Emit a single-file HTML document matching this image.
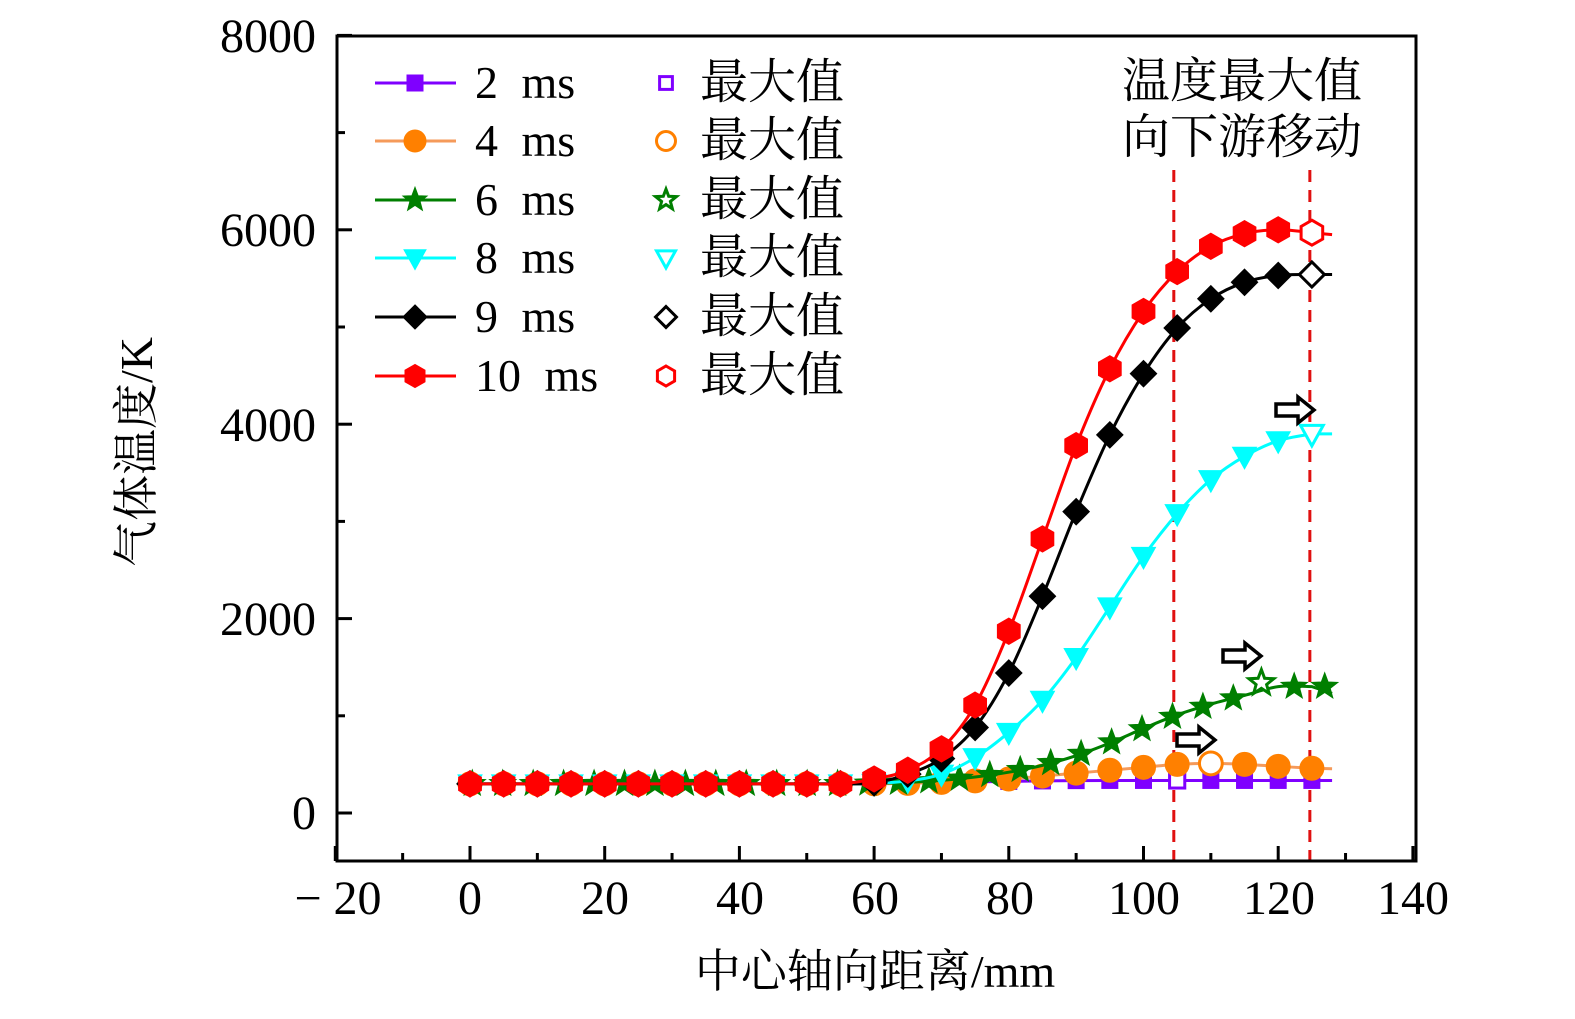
<!DOCTYPE html>
<html><head><meta charset="utf-8"><style>
body{margin:0;background:#fff;}
svg text{font-family:"Liberation Serif","Noto Serif CJK SC",serif;fill:#000;}
</style></head><body>
<svg id="s" width="1575" height="1014" viewBox="0 0 1575 1014" xmlns="http://www.w3.org/2000/svg">
<rect width="1575" height="1014" fill="#fff"/>
<g id="plot"></g>
<g id="ax" stroke="#000" stroke-width="3" fill="none">
<rect x="337" y="36" width="1079" height="825"/>
</g>
<g id="ticks" stroke="#000" stroke-width="3"></g>
<g font-size="48" text-anchor="middle">
<text x="338" y="914">− 20</text>
<text x="470" y="914">0</text>
<text x="605" y="914">20</text>
<text x="740" y="914">40</text>
<text x="875" y="914">60</text>
<text x="1010" y="914">80</text>
<text x="1144" y="914">100</text>
<text x="1279" y="914">120</text>
<text x="1413" y="914">140</text>
</g>
<g font-size="48" text-anchor="end">
<text x="316" y="829">0</text>
<text x="316" y="635">2000</text>
<text x="316" y="441">4000</text>
<text x="316" y="246">6000</text>
<text x="316" y="52">8000</text>
</g>
<text x="875" y="987" font-size="46" text-anchor="middle">中心轴向距离/mm</text>
<text transform="translate(152,452) rotate(-90)" font-size="46" text-anchor="middle">气体温度/K</text>
<g font-size="48" text-anchor="middle">
<text x="1242" y="97">温度最大值</text>
<text x="1242" y="153">向下游移动</text>
</g>
<g font-size="46" word-spacing="12">
<text x="475" y="98">2 ms</text>
<text x="475" y="156">4 ms</text>
<text x="475" y="215">6 ms</text>
<text x="475" y="273">8 ms</text>
<text x="475" y="332">9 ms</text>
<text x="475" y="391">10 ms</text>
</g>
<g font-size="48">
<text x="700" y="98">最大值</text>
<text x="700" y="156">最大值</text>
<text x="700" y="215">最大值</text>
<text x="700" y="273">最大值</text>
<text x="700" y="332">最大值</text>
<text x="700" y="391">最大值</text>
</g>
<g id="leg"></g>
</svg>
<script>
const NS="http://www.w3.org/2000/svg";
const X=v=>470+v*6.735, Y=v=>813-v*0.0972;
function el(p,t,a){const e=document.createElementNS(NS,t);for(const k in a)e.setAttribute(k,a[k]);p.appendChild(e);return e;}
const T=document.getElementById('ticks');
for(let v=-20;v<=140;v+=10){const x=X(v);el(T,'line',{x1:x,x2:x,y1:861,y2:v%20==0?846:853});}
for(let v=0;v<=8000;v+=1000){const y=Y(v);el(T,'line',{y1:y,y2:y,x1:337,x2:v%2000==0?352:345});}
function star(cx,cy,R){let p=[];for(let i=0;i<10;i++){const r=i%2?R*0.42:R,a=-Math.PI/2+i*Math.PI/5;p.push((cx+r*Math.cos(a)).toFixed(1)+','+(cy+r*Math.sin(a)).toFixed(1));}return p.join(' ');}
function hex(cx,cy,R){let p=[];for(let i=0;i<6;i++){const a=-Math.PI/2+i*Math.PI/3;p.push((cx+R*Math.cos(a)).toFixed(1)+','+(cy+R*Math.sin(a)).toFixed(1));}return p.join(' ');}
function marker(g,type,cx,cy,s,col,open){
 const st=open?{fill:'#fff',stroke:col,'stroke-width':3}:{fill:col,stroke:col,'stroke-width':1};
 if(type=='sq')el(g,'rect',Object.assign({x:cx-s*0.8,y:cy-s*0.8,width:s*1.6,height:s*1.6},st));
 if(type=='ci')el(g,'circle',Object.assign({cx,cy,r:s},st));
 if(type=='st')el(g,'polygon',Object.assign({points:star(cx,cy,s*1.15)},st));
 if(type=='tr')el(g,'polygon',Object.assign({points:`${cx-s},${cy-s*0.75} ${cx+s},${cy-s*0.75} ${cx},${cy+s*1.05}`},st));
 if(type=='di')el(g,'polygon',Object.assign({points:`${cx},${cy-s*1.1} ${cx+s*1.1},${cy} ${cx},${cy+s*1.1} ${cx-s*1.1},${cy}`},st));
 if(type=='hx')el(g,'polygon',Object.assign({points:hex(cx,cy,s*1.05)},st));
}
const base=[300,300,300,300,300,300,300,300,300,300,300,300];
const S=[
 {c:'#7f00ff',t:'sq',d:base.concat([305,310,315,320,325,330,333,335,335,335,335,335,335,335]),mx:[105,335],end:335,lc:'#7f00ff'},
 {c:'#ff8000',t:'ci',d:base.concat([300,305,315,330,350,380,410,440,470,500,510,500,480,460]),mx:[110,510],end:455,lc:'#f59a5a'},
 {c:'#007f00',t:'st',d:base.concat([305,315,335,370,420,490,590,720,870,1010,1120,1210,1300,1300,1250]),mx:[117.5,1340],end:1230,lc:'#007f00',step:4.52,off:126.9},
 {c:'#00ffff',t:'tr',d:base.concat([305,330,400,570,830,1160,1600,2120,2640,3080,3430,3670,3830,3900]),mx:[125,3900],end:3900,lc:'#00ffff'},
 {c:'#000',t:'di',d:base.concat([310,400,560,880,1440,2230,3100,3890,4520,4990,5290,5460,5530,5540]),mx:[125,5540],end:5540,lc:'#000'},
 {c:'#ff0000',t:'hx',d:base.concat([350,440,660,1110,1870,2820,3780,4570,5160,5570,5830,5960,6000,5970]),mx:[125,5970],end:5950,lc:'#ff0000'}
];
const P=document.getElementById('plot');
function interp(d,x){const i=Math.min(Math.floor(x/5),d.length-2);const f=x/5-i;return d[i]+(d[i+1]-d[i])*f;}
function path(d){let pts=[];for(let i=0;i<d.length;i++)pts.push([X(i*5),Y(d[i])]);
 let s='M'+pts[0][0]+','+pts[0][1];
 for(let i=0;i<pts.length-1;i++){const p0=pts[Math.max(0,i-1)],p1=pts[i],p2=pts[i+1],p3=pts[Math.min(pts.length-1,i+2)];
  s+=` C${p1[0]+(p2[0]-p0[0])/6},${p1[1]+(p2[1]-p0[1])/6} ${p2[0]-(p3[0]-p1[0])/6},${p2[1]-(p3[1]-p1[1])/6} ${p2[0]},${p2[1]}`;}
 return s;}
for(const v of [104.5,124.7])el(P,'line',{x1:X(v),x2:X(v),y1:170,y2:861,stroke:'#e01010','stroke-width':3,'stroke-dasharray':'12 8'});
S.forEach(s=>{
 const g=el(P,'g',{});
 let d=s.d.slice(); if(d.length>26)d=d.slice(0,26);
 el(g,'path',{d:path(d)+` L${X(128)},${Y(s.end)}`,fill:'none',stroke:s.lc,'stroke-width':3});
 const sz=s.t=='hx'?12.5:s.t=='ci'?12:s.t=='sq'?10:12;
 if(s.step){for(let x=s.off;x>=-1;x-=s.step){if(Math.abs(x-s.mx[0])<1)continue;marker(g,s.t,X(x),Y(interp(d,Math.max(0,x))),sz,s.c,false);}}
 else{for(let i=0;i<d.length;i++){const x=i*5;if(x==s.mx[0])continue;marker(g,s.t,X(x),Y(d[i]),sz,s.c,false);}}
 marker(g,s.t,X(s.mx[0]),Y(s.mx[1]),sz*0.95,s.c,true);
});
function arrow(x,y){el(P,'path',{d:`M${x},${y-6} L${x+22},${y-6} L${x+22},${y-13} L${x+38},${y} L${x+22},${y+13} L${x+22},${y+6} L${x},${y+6} Z`,fill:'#fff',stroke:'#000','stroke-width':3.5,'stroke-linejoin':'miter'});}
arrow(1276,410);arrow(1223,656);arrow(1177,740);
const L=document.getElementById('leg');const ys=[83,141,200,258,317,376];
S.forEach((s,i)=>{el(L,'line',{x1:375,x2:456,y1:ys[i],y2:ys[i],stroke:s.lc,'stroke-width':3});
 marker(L,s.t,415,ys[i],s.t=='sq'?10:11,s.c,false);marker(L,s.t,666,ys[i],s.t=='sq'?8:9.5,s.c,true);});
</script>
</body></html>
